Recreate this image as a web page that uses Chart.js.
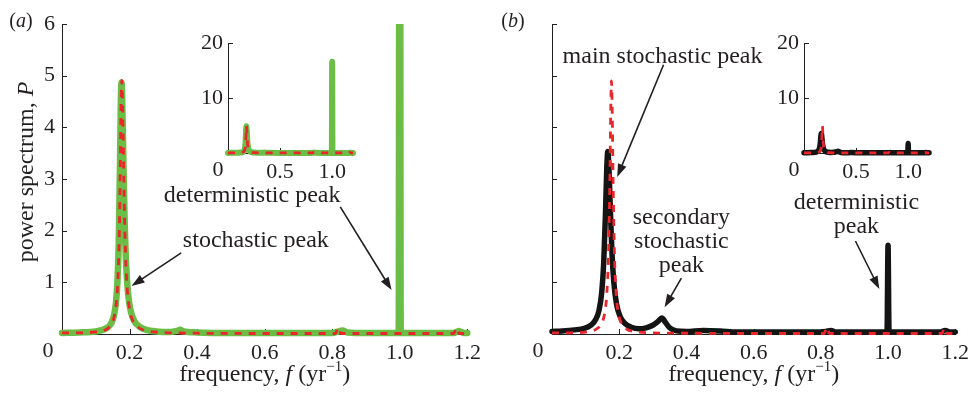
<!DOCTYPE html>
<html>
<head>
<meta charset="utf-8">
<script src="https://cdn.jsdelivr.net/npm/chart.js@4.4.1/dist/chart.umd.min.js"></script>
<style>
  html, body { margin: 0; padding: 0; background: #fff; }
  #wrap { position: relative; width: 975px; height: 397px; overflow: hidden; }
  canvas { position: absolute; }
</style>
</head>
<body>
<div id="wrap">
  <canvas id="mainA" width="487" height="397" style="left:0;top:0"></canvas>
  <canvas id="mainB" width="485" height="397" style="left:490px;top:0"></canvas>
  <canvas id="insetA" width="200" height="160" style="left:170px;top:25px"></canvas>
  <canvas id="insetB" width="200" height="160" style="left:746px;top:25px"></canvas>
</div>
<script>
const xTicks = [0, 0.2, 0.4, 0.6, 0.8, 1.0, 1.2]
const yTicks = [1, 2, 3, 4, 5, 6]
const insetXTicks = [0, 0.5, 1.0]
const insetYTicks = [10, 20]

// (a) simulated spectrum, green
const freqSimA = [0, 0.05, 0.1, 0.12, 0.136, 0.146, 0.154, 0.16, 0.164, 0.168, 0.172, 0.174, 0.176, 0.178, 0.181, 0.185, 0.19, 0.196, 0.204, 0.215, 0.23, 0.25, 0.28, 0.32, 0.34, 0.35, 0.36, 0.4, 0.5, 0.6, 0.7, 0.8, 0.815, 0.83, 0.845, 0.9, 0.997, 1.0, 1.003, 1.1, 1.16, 1.175, 1.19, 1.2]
const powerSimA = [0.02, 0.03, 0.05, 0.08, 0.13, 0.21, 0.36, 0.62, 0.99, 1.76, 3.38, 4.39, 4.87, 4.62, 3.62, 2.31, 1.33, 0.76, 0.43, 0.24, 0.14, 0.08, 0.05, 0.04, 0.06, 0.08, 0.05, 0.03, 0.02, 0.02, 0.02, 0.02, 0.04, 0.07, 0.03, 0.02, 0.02, 16.6, 0.02, 0.02, 0.02, 0.06, 0.02, 0.02]

// (a) analytic spectrum, red dashed
const freqThA = [0, 0.05, 0.1, 0.12, 0.136, 0.147, 0.155, 0.161, 0.166, 0.17, 0.173, 0.175, 0.177, 0.179, 0.181, 0.184, 0.188, 0.193, 0.2, 0.21, 0.225, 0.25, 0.3, 0.4, 0.6, 0.8, 0.81, 0.818, 0.826, 0.9, 1.1, 1.16, 1.168, 1.176, 1.2]
const powerThA = [0.02, 0.02, 0.04, 0.06, 0.11, 0.2, 0.35, 0.61, 1.13, 2.08, 3.4, 4.42, 4.91, 4.58, 3.83, 2.63, 1.57, 0.89, 0.48, 0.25, 0.13, 0.06, 0.03, 0.015, 0.01, 0.01, 0.01, 0.13, 0.01, 0.01, 0.01, 0.01, 0.12, 0.01, 0.01]

// (b) simulated spectrum, black
const freqSimB = [0, 0.03, 0.066, 0.096, 0.116, 0.13, 0.14, 0.148, 0.154, 0.159, 0.163, 0.166, 0.169, 0.173, 0.178, 0.184, 0.192, 0.202, 0.216, 0.236, 0.26, 0.28, 0.3, 0.315, 0.327, 0.338, 0.35, 0.37, 0.4, 0.45, 0.5, 0.55, 0.6, 0.7, 0.8, 0.815, 0.83, 0.845, 0.9, 0.997, 1.0, 1.003, 1.1, 1.155, 1.17, 1.185, 1.2]
const powerSimB = [0.05, 0.06, 0.08, 0.11, 0.17, 0.28, 0.46, 0.81, 1.39, 2.31, 3.21, 3.53, 3.29, 2.53, 1.64, 1.0, 0.58, 0.35, 0.21, 0.13, 0.1, 0.12, 0.17, 0.24, 0.31, 0.22, 0.12, 0.06, 0.05, 0.07, 0.06, 0.04, 0.04, 0.04, 0.04, 0.05, 0.07, 0.04, 0.04, 0.04, 1.72, 0.04, 0.04, 0.04, 0.07, 0.04, 0.04]

// (b) analytic spectrum, red dashed
const freqThB = [0, 0.057, 0.107, 0.132, 0.147, 0.157, 0.163, 0.168, 0.172, 0.175, 0.177, 0.179, 0.182, 0.186, 0.191, 0.197, 0.207, 0.222, 0.247, 0.297, 0.4, 0.6, 0.8, 0.81, 0.818, 0.826, 0.9, 1.1, 1.16, 1.168, 1.176, 1.2]
const powerThB = [0.02, 0.022, 0.046, 0.095, 0.2, 0.41, 0.77, 1.51, 2.9, 4.41, 4.9, 4.41, 2.9, 1.51, 0.77, 0.41, 0.2, 0.095, 0.046, 0.022, 0.015, 0.01, 0.01, 0.01, 0.13, 0.01, 0.01, 0.01, 0.01, 0.12, 0.01, 0.01]

const FAMILY = '"Liberation Serif", "Times New Roman", serif'
const INK = '#231f20'
const GREEN = '#6bbd45'
const RED = '#e8262b'
const BLACK = '#141414'

const font = (size, italic) => `${italic ? 'italic ' : ''}${size}px ${FAMILY}`

const series = (freq, power) => freq.map((f, i) => ({ x: f, y: power[i] }))

const simLine = (freq, power, color, width) => ({
  data: series(freq, power),
  borderColor: color,
  borderWidth: width,
  pointRadius: 0,
  cubicInterpolationMode: 'monotone',
  borderJoinStyle: 'round',
  borderCapStyle: 'round',
  clip: { left: 8, right: 8, top: 0, bottom: 8 },
  order: 1,
})

const theoryLine = (freq, power) => ({
  data: series(freq, power),
  borderColor: RED,
  borderWidth: 2.8,
  borderDash: [7, 7],
  pointRadius: 0,
  cubicInterpolationMode: 'monotone',
  clip: { left: 8, right: 8, top: 0, bottom: 8 },
  order: 0,
})

const drawRich = (ctx, parts, x, y, size) => {
  const fontOf = (p) => font(p.sup ? Math.round(size * 0.62) : size, p.italic)
  const widths = parts.map((p) => {
    ctx.font = fontOf(p)
    return ctx.measureText(p.text).width
  })
  let cx = x - widths.reduce((a, b) => a + b, 0) / 2
  ctx.textAlign = 'left'
  parts.forEach((p, i) => {
    ctx.font = fontOf(p)
    ctx.fillText(p.text, cx, p.sup ? y - size * 0.4 : y)
    cx += widths[i]
  })
}

const drawArrow = (ctx, x1, y1, x2, y2) => {
  const a = Math.atan2(y2 - y1, x2 - x1)
  const len = 13
  const half = 4.5
  ctx.beginPath()
  ctx.moveTo(x1, y1)
  ctx.lineTo(x2 - Math.cos(a) * len * 0.8, y2 - Math.sin(a) * len * 0.8)
  ctx.stroke()
  ctx.beginPath()
  ctx.moveTo(x2, y2)
  ctx.lineTo(x2 - len * Math.cos(a) + half * Math.sin(a), y2 - len * Math.sin(a) - half * Math.cos(a))
  ctx.lineTo(x2 - len * Math.cos(a) - half * Math.sin(a), y2 - len * Math.sin(a) + half * Math.cos(a))
  ctx.closePath()
  ctx.fill()
}

const deco = (o) => ({
  id: 'deco',
  beforeDatasetsDraw(chart) {
    const { ctx, chartArea: area, scales: { x, y } } = chart
    ctx.save()
    ctx.strokeStyle = INK
    ctx.lineWidth = 1
    o.xTicks.forEach((v) => {
      const px = Math.round(x.getPixelForValue(v)) + 0.5
      ctx.beginPath()
      ctx.moveTo(px, area.bottom)
      ctx.lineTo(px, area.bottom - 5)
      ctx.stroke()
    })
    o.yTicks.forEach((v) => {
      const py = Math.round(y.getPixelForValue(v)) + 0.5
      ctx.beginPath()
      ctx.moveTo(area.left, py)
      ctx.lineTo(area.left + 5, py)
      ctx.stroke()
    })
    ctx.restore()
  },
  afterDraw(chart) {
    const { ctx, chartArea: area, scales: { x, y } } = chart
    ctx.save()
    ctx.fillStyle = INK
    ctx.strokeStyle = INK

    // the lone "0" sits left of the origin
    ctx.font = font(22)
    ctx.textAlign = 'center'
    ctx.textBaseline = 'top'
    ctx.fillText('0', x.getPixelForValue(0) - o.zeroShift, x.top + o.tickPad)

    ctx.textBaseline = 'alphabetic'
    if (o.tag) drawRich(ctx, [{ text: '(' }, { text: o.tag, italic: true }, { text: ')' }], o.tagX, 27, 20)

    if (o.titles) {
      drawRich(ctx, [
        { text: 'frequency, ' }, { text: 'f', italic: true }, { text: ' (yr' },
        { text: '\u22121', sup: true }, { text: ')' },
      ], (area.left + area.right) / 2, 381, 24)
    }
    if (o.yTitle) {
      ctx.save()
      ctx.translate(33, 172)
      ctx.rotate(-Math.PI / 2)
      drawRich(ctx, [{ text: 'power spectrum, ' }, { text: 'P', italic: true }], 0, 0, 24)
      ctx.restore()
    }

    ctx.textAlign = 'center'
    ctx.textBaseline = 'middle'
    ctx.font = font(24)
    ;(o.notes || []).forEach((n) => {
      n.lines.forEach((line, i) => {
        ctx.fillText(line, x.getPixelForValue(n.f), y.getPixelForValue(n.p) + i * 24)
      })
    })
    ctx.lineWidth = 1.6
    ;(o.arrows || []).forEach((a) => {
      drawArrow(ctx, x.getPixelForValue(a.from[0]), y.getPixelForValue(a.from[1]),
        x.getPixelForValue(a.to[0]), y.getPixelForValue(a.to[1]))
    })
    ctx.restore()
  },
})

const makeChart = (id, datasets, o) => new Chart(document.getElementById(id), {
  type: 'line',
  data: { datasets },
  options: {
    responsive: false,
    animation: false,
    events: [],
    layout: { padding: o.pad },
    plugins: { legend: { display: false }, tooltip: { enabled: false } },
    scales: {
      x: {
        type: 'linear',
        min: 0,
        max: 1.2,
        afterBuildTicks: (s) => { s.ticks = o.xTicks.map((v) => ({ value: v })) },
        afterFit: (s) => { s.height = o.xh },
        grid: { display: false, drawTicks: false },
        border: { color: INK, width: 1 },
        ticks: {
          font: { family: FAMILY, size: 22 },
          color: INK,
          padding: o.tickPad,
          maxRotation: 0,
          autoSkip: false,
          callback: (v) => (v === 0 ? '' : v.toFixed(1)),
        },
      },
      y: {
        type: 'linear',
        min: 0,
        max: o.ymax,
        afterBuildTicks: (s) => { s.ticks = o.yTicks.map((v) => ({ value: v })) },
        afterFit: (s) => { s.width = o.yw },
        grid: { display: false, drawTicks: false },
        border: { color: INK, width: 1 },
        ticks: {
          display: o.yLabels,
          font: { family: FAMILY, size: 22 },
          color: INK,
          padding: o.yPad,
          callback: (v) => String(v),
        },
      },
    },
  },
  plugins: [deco(o)],
})

const mainBase = { xTicks, yTicks, ymax: 6, xh: 63, yw: 62, tickPad: 6, yPad: 7, zeroShift: 14, titles: true }
const insetBase = { xTicks: insetXTicks, yTicks: insetYTicks, ymax: 20, xh: 32, yw: 58, tickPad: 6, yPad: 5, zeroShift: 10, yLabels: true }

makeChart('mainA', [
  simLine(freqSimA, powerSimA, GREEN, 6.5),
  theoryLine(freqThA, powerThA),
], {
  ...mainBase,
  pad: { left: 0, top: 24, right: 17, bottom: 0 },
  yLabels: true,
  yTitle: true,
  tag: 'a',
  tagX: 21,
  notes: [
    { lines: ['stochastic peak'], f: 0.574, p: 1.8 },
    { lines: ['deterministic peak'], f: 0.563, p: 2.67 },
  ],
  arrows: [
    { from: [0.353, 1.57], to: [0.206, 0.93] },
    { from: [0.824, 2.46], to: [0.976, 0.85] },
  ],
})

makeChart('mainB', [
  simLine(freqSimB, powerSimB, BLACK, 5.5),
  theoryLine(freqThB, powerThB),
], {
  ...mainBase,
  pad: { left: 0, top: 24, right: 15, bottom: 0 },
  yLabels: false,
  tag: 'b',
  tagX: 23,
  notes: [
    { lines: ['main stochastic peak'], f: 0.329, p: 5.36 },
    { lines: ['secondary', 'stochastic', 'peak'], f: 0.385, p: 2.25 },
    { lines: ['deterministic', 'peak'], f: 0.906, p: 2.55 },
  ],
  arrows: [
    { from: [0.332, 5.21], to: [0.194, 3.04] },
    { from: [0.385, 1.08], to: [0.335, 0.52] },
    { from: [0.903, 1.8], to: [0.974, 0.87] },
  ],
})

makeChart('insetA', [
  simLine(freqSimA, powerSimA, GREEN, 6),
  theoryLine(freqThA, powerThA),
], { ...insetBase, pad: { left: 0, top: 14, right: 17, bottom: 0 } })

makeChart('insetB', [
  simLine(freqSimB, powerSimB, BLACK, 5.5),
  theoryLine(freqThB, powerThB),
], { ...insetBase, pad: { left: 0, top: 14, right: 17, bottom: 0 } })
</script>
</body>
</html>
